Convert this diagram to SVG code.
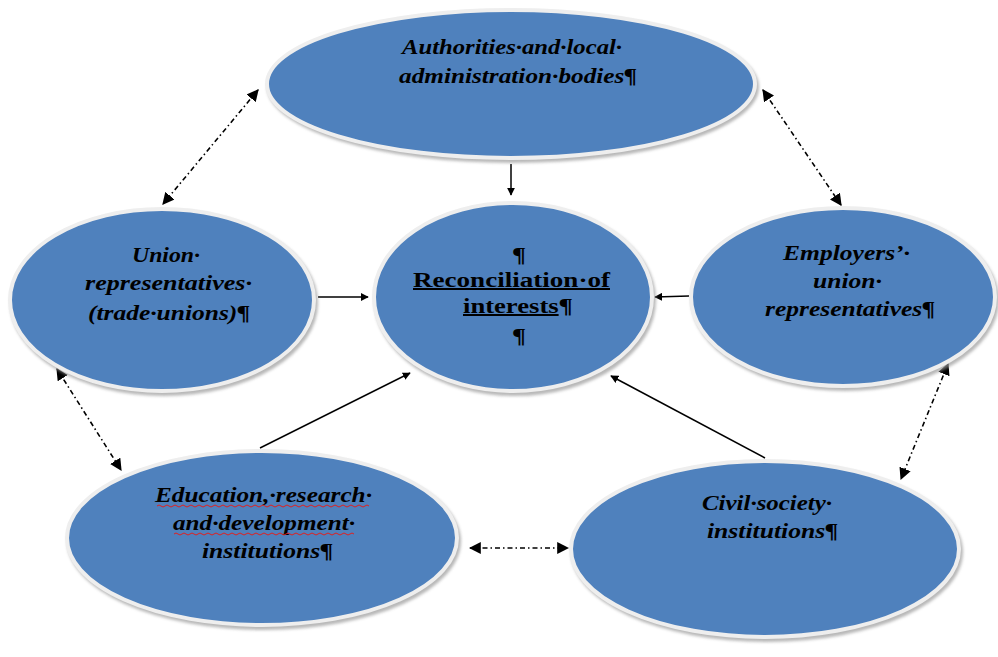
<svg xmlns="http://www.w3.org/2000/svg" width="998" height="657" viewBox="0 0 998 657">
<style>
.node{fill:#4F81BD;stroke:#EEEEEE;stroke-width:4}
.shadow{fill:#9A9A9A;opacity:0.7}
.t{font-family:"Liberation Serif","Times New Roman","DejaVu Serif",serif;font-size:20px;font-weight:bold;font-style:italic;fill:#000}
.c{font-family:"Liberation Serif","Times New Roman","DejaVu Serif",serif;font-size:20px;font-weight:bold;fill:#000}
.solid{stroke:#000;stroke-width:1.5;fill:none}
.dash{stroke:#000;stroke-width:1.6;fill:none;stroke-dasharray:5 3 1.5 3}
.wave{stroke:#E02020;stroke-width:1;fill:none}
</style>
<defs>
<marker id="ah" viewBox="0 0 10 10" refX="9" refY="5" markerWidth="8" markerHeight="8" markerUnits="userSpaceOnUse" orient="auto">
<path d="M0,0 L10,5 L0,10 z" fill="#000"/>
</marker>
<marker id="ad" viewBox="0 0 10 10" refX="9" refY="5" markerWidth="12" markerHeight="12" markerUnits="userSpaceOnUse" orient="auto-start-reverse">
<path d="M0,0 L10,5 L0,10 z" fill="#000"/>
</marker>
<filter id="blur" x="-10%" y="-10%" width="120%" height="120%"><feGaussianBlur stdDeviation="1.5"/></filter>
</defs>

<g id="connectors">
<line class="solid" x1="511" y1="164" x2="511" y2="195" marker-end="url(#ah)"/>
<line class="solid" x1="318" y1="297" x2="368" y2="297" marker-end="url(#ah)"/>
<line class="solid" x1="689" y1="296" x2="655" y2="297" marker-end="url(#ah)"/>
<line class="solid" x1="260" y1="448" x2="410" y2="373" marker-end="url(#ah)"/>
<line class="solid" x1="765" y1="458" x2="611" y2="376" marker-end="url(#ah)"/>
<line class="dash" x1="258" y1="90" x2="163" y2="204" marker-start="url(#ad)" marker-end="url(#ad)"/>
<line class="dash" x1="763" y1="90" x2="841" y2="205" marker-start="url(#ad)" marker-end="url(#ad)"/>
<line class="dash" x1="57" y1="369" x2="121" y2="470" marker-start="url(#ad)" marker-end="url(#ad)"/>
<line class="dash" x1="948" y1="364" x2="901" y2="479" marker-start="url(#ad)" marker-end="url(#ad)"/>
<line class="dash" x1="470" y1="548" x2="568" y2="548" marker-start="url(#ad)" marker-end="url(#ad)"/>
</g>

<g id="authorities">
<ellipse class="shadow" cx="513" cy="87" rx="246" ry="76" filter="url(#blur)"/>
<ellipse class="node" cx="511" cy="84" rx="244" ry="74"/>
<text class="t" x="402" y="54" textLength="220" lengthAdjust="spacingAndGlyphs">Authorities·and·local·</text>
<text class="t" x="399" y="83" textLength="238" lengthAdjust="spacingAndGlyphs">administration·bodies¶</text>
</g>

<g id="reconciliation">
<ellipse class="shadow" cx="515" cy="300" rx="141" ry="96" filter="url(#blur)"/>
<ellipse class="node" cx="513" cy="297" rx="139" ry="94"/>
<text class="c" x="512" y="262" textLength="14" lengthAdjust="spacingAndGlyphs">¶</text>
<text class="c" x="413" y="287" textLength="197" lengthAdjust="spacingAndGlyphs" text-decoration="underline">Reconciliation·of</text>
<text class="c" x="463" y="313" textLength="110" lengthAdjust="spacingAndGlyphs"><tspan text-decoration="underline">interests</tspan>¶</text>
<text class="c" x="512" y="343" textLength="14" lengthAdjust="spacingAndGlyphs">¶</text>
</g>

<g id="union">
<ellipse class="shadow" cx="164" cy="303" rx="154" ry="93" filter="url(#blur)"/>
<ellipse class="node" cx="162" cy="300" rx="152" ry="91"/>
<text class="t" x="132" y="262" textLength="68" lengthAdjust="spacingAndGlyphs">Union·</text>
<text class="t" x="85" y="290" textLength="167" lengthAdjust="spacingAndGlyphs">representatives·</text>
<text class="t" x="88" y="320" textLength="162" lengthAdjust="spacingAndGlyphs">(trade·unions)¶</text>
</g>

<g id="employers">
<ellipse class="shadow" cx="845" cy="300" rx="154" ry="91" filter="url(#blur)"/>
<ellipse class="node" cx="843" cy="297" rx="152" ry="89"/>
<text class="t" x="783" y="260" textLength="127" lengthAdjust="spacingAndGlyphs">Employers’·</text>
<text class="t" x="813" y="288" textLength="69" lengthAdjust="spacingAndGlyphs">union·</text>
<text class="t" x="765" y="316" textLength="170" lengthAdjust="spacingAndGlyphs">representatives¶</text>
</g>

<g id="education">
<ellipse class="shadow" cx="264" cy="541" rx="197" ry="89" filter="url(#blur)"/>
<ellipse class="node" cx="262" cy="538" rx="195" ry="87"/>
<text class="t" x="155" y="502" textLength="217" lengthAdjust="spacingAndGlyphs">Education,·research·</text>
<text class="t" x="173" y="530" textLength="182" lengthAdjust="spacingAndGlyphs">and·development·</text>
<text class="t" x="202" y="558" textLength="131" lengthAdjust="spacingAndGlyphs">institutions¶</text>
<path class="wave" d="M157,506 q2,-2 4,0 t4,0 t4,0 t4,0 t4,0 t4,0 t4,0 t4,0 t4,0 t4,0 t4,0 t4,0 t4,0 t4,0 t4,0 t4,0 t4,0 t4,0 t4,0 t4,0 t4,0 t4,0 t4,0 t4,0 t4,0 t4,0 t4,0 t4,0 t4,0 t4,0 t4,0 t4,0 t4,0 t4,0 t4,0 t4,0 t4,0 t4,0 t4,0 t4,0 t4,0 t4,0 t4,0 t4,0 t4,0 t4,0 t4,0 t4,0 t4,0 t4,0 t4,0 t4,0 t4,0"/>
<path class="wave" d="M174,534 q2,-2 4,0 t4,0 t4,0 t4,0 t4,0 t4,0 t4,0 t4,0 t4,0 t4,0 t4,0 t4,0 t4,0 t4,0 t4,0 t4,0 t4,0 t4,0 t4,0 t4,0 t4,0 t4,0 t4,0 t4,0 t4,0 t4,0 t4,0 t4,0 t4,0 t4,0 t4,0 t4,0 t4,0 t4,0 t4,0 t4,0 t4,0 t4,0 t4,0 t4,0 t4,0 t4,0 t4,0 t4,0 t4,0"/>
</g>

<g id="civil">
<ellipse class="shadow" cx="767" cy="552" rx="196" ry="90" filter="url(#blur)"/>
<ellipse class="node" cx="765" cy="549" rx="194" ry="88"/>
<text class="t" x="702" y="510" textLength="130" lengthAdjust="spacingAndGlyphs">Civil·society·</text>
<text class="t" x="707" y="538" textLength="131" lengthAdjust="spacingAndGlyphs">institutions¶</text>
</g>
</svg>
